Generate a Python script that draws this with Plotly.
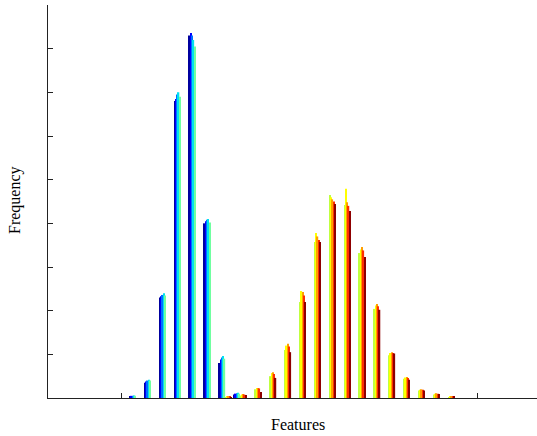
import plotly.graph_objects as go

bins = list(range(1, 23))

# Blue group series (bins 1..8), zeros elsewhere
blue_names = ["S1", "S2", "S3", "S4", "S5"]
blue_colors = ["#00009F", "#0000FF", "#0070FF", "#00E0F0", "#70FFA0"]
blue_s1 = [0.04, 0.35, 2.30, 6.80, 8.30, 4.00, 0.80, 0.08] + [0] * 14
blue_s2 = [0.05, 0.38, 2.33, 6.85, 8.36, 4.05, 0.88, 0.10] + [0] * 14
blue_s3 = [0.05, 0.40, 2.36, 6.95, 8.30, 4.08, 0.93, 0.11] + [0] * 14
blue_s4 = [0.06, 0.42, 2.40, 7.00, 8.20, 4.10, 0.96, 0.12] + [0] * 14
blue_s5 = [0.05, 0.40, 2.35, 6.90, 8.05, 4.02, 0.90, 0.10] + [0] * 14

# Red group series (bins 7..22), zeros elsewhere
red_names = ["S6", "S7", "S8", "S9", "S10"]
red_colors = ["#BFFF40", "#FFFF00", "#FF9F00", "#FF3000", "#8F0000"]
red_s1 = [0] * 6 + [0.02, 0.06, 0.20, 0.50, 1.10, 2.20, 3.57, 4.65, 4.42, 3.32, 2.04, 0.98, 0.44, 0.17, 0.08, 0.02]
red_s2 = [0] * 6 + [0.03, 0.08, 0.23, 0.57, 1.20, 2.45, 3.78, 4.60, 4.79, 3.40, 2.12, 1.03, 0.47, 0.19, 0.10, 0.03]
red_s3 = [0] * 6 + [0.03, 0.09, 0.23, 0.59, 1.24, 2.43, 3.70, 4.55, 4.48, 3.46, 2.15, 1.05, 0.48, 0.20, 0.11, 0.04]
red_s4 = [0] * 6 + [0.03, 0.08, 0.22, 0.55, 1.18, 2.35, 3.62, 4.50, 4.40, 3.38, 2.10, 1.03, 0.46, 0.19, 0.10, 0.04]
red_s5 = [0] * 6 + [0.02, 0.07, 0.14, 0.46, 1.05, 2.20, 3.57, 4.44, 4.28, 3.23, 2.02, 1.02, 0.42, 0.17, 0.09, 0.03]

x_tick_vals = [0, 24]
x_title = "Features"
y_title = "Frequency"

series = [blue_s1, blue_s2, blue_s3, blue_s4, blue_s5, red_s1, red_s2, red_s3, red_s4, red_s5]
names = blue_names + red_names
colors = blue_colors + red_colors

fig = go.Figure()
for vals, nm, col in zip(series, names, colors):
    fig.add_trace(go.Bar(x=bins, y=vals, name=nm, marker=dict(color=col, line=dict(width=0))))

W, H = 537, 436
L, R, T, B = 48, 0, 5, 38

fig.update_layout(
    width=W, height=H,
    margin=dict(l=L, r=R, t=T, b=B, autoexpand=False),
    paper_bgcolor="white", plot_bgcolor="white",
    barmode="group", bargap=0.13, bargroupgap=0,
    showlegend=False,
    font=dict(family="Liberation Serif, Times New Roman, serif", size=16, color="black"),
    xaxis=dict(range=[-4.92, 27.98], tickvals=x_tick_vals, showticklabels=False,
               ticks="inside", ticklen=5, tickcolor="#222", showline=True, linecolor="#222",
               linewidth=1, showgrid=False, zeroline=False, automargin=False),
    yaxis=dict(range=[0, 9], dtick=1, tick0=0, showticklabels=False,
               ticks="inside", ticklen=5, tickcolor="#222", showline=True, linecolor="#222",
               linewidth=1, showgrid=False, zeroline=False, automargin=False),
    annotations=[
        dict(text=x_title, xref="paper", yref="paper", x=(298 - L) / (W - L - R),
             y=-(424 - (H - B)) / (H - T - B), showarrow=False, xanchor="center", yanchor="middle",
             font=dict(size=16)),
        dict(text=y_title, xref="paper", yref="paper", x=-(L - 15) / (W - L - R),
             y=((H - B) - 200) / (H - T - B), showarrow=False, xanchor="center", yanchor="middle",
             textangle=-90, font=dict(size=16)),
    ],
)

fig.write_html("out.html", config={"displayModeBar": False},
               post_script="document.body.style.margin='0';document.body.style.overflow='hidden';")
